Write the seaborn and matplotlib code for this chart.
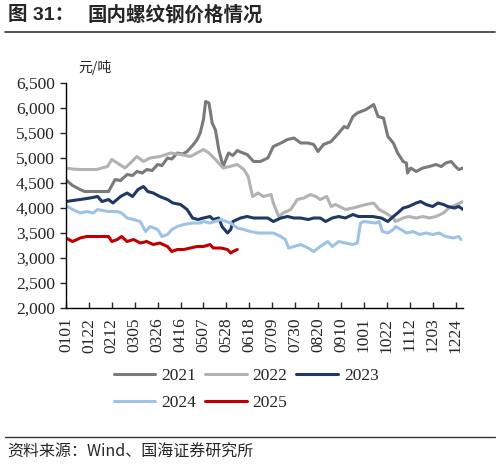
import pandas as pd
import seaborn as sns
import matplotlib.pyplot as plt
from matplotlib.lines import Line2D

# Day-of-year positions (0 = Jan 1) and prices (yuan/ton)
days_2021 = [0, 6, 13, 17, 39, 45, 50, 56, 61, 65, 70, 74, 79, 84, 88, 93, 97, 102, 107, 111,
             116, 120, 123, 126, 128, 131, 134, 137, 140, 144, 149, 153, 157, 160, 166, 172,
             178, 185, 190, 197, 203, 209, 215, 222, 227, 231, 236, 243, 250, 255, 258, 263,
             267, 275, 282, 286, 291, 295, 300, 304, 309, 312, 313, 316, 321, 327, 333, 339,
             344, 348, 353, 357, 360, 364]
price_2021 = [4560, 4450, 4370, 4330, 4330, 4570, 4550, 4670, 4650, 4730, 4700, 4770, 4750, 4870,
              4850, 5000, 4980, 5100, 5080, 5130, 5250, 5360, 5500, 5770, 6130, 6100, 5700, 5560,
              5170, 4830, 5100, 5050, 5150, 5120, 5070, 4930, 4930, 5000, 5230, 5300, 5370, 5400,
              5300, 5300, 5270, 5130, 5270, 5330, 5500, 5630, 5600, 5830, 5900, 5970, 6070, 5830,
              5800, 5430, 5300, 5100, 4930, 4900, 4700, 4800, 4730, 4800, 4830, 4870, 4830, 4900,
              4930, 4830, 4770, 4800]

days_2022 = [0, 6, 13, 28, 38, 42, 47, 54, 59, 65, 71, 77, 86, 96, 105, 114, 120, 126, 131, 137,
             144, 150, 157, 163, 167, 171, 176, 181, 188, 190, 195, 199, 206, 212, 218, 224, 229,
             233, 239, 243, 247, 256, 263, 268, 275, 282, 287, 293, 300, 302, 309, 314, 321, 327,
             333, 339, 346, 351, 358, 364]
price_2022 = [4800, 4780, 4770, 4770, 4830, 4970, 4900, 4800, 4900, 5030, 4930, 5000, 5030, 5100,
              5070, 5030, 5100, 5170, 5100, 4970, 4800, 4830, 4870, 4770, 4630, 4230, 4300, 4230,
              4270, 4100, 3830, 3900, 3970, 4170, 4200, 4270, 4230, 4170, 4230, 4030, 4070, 3970,
              4000, 4030, 4070, 4100, 3970, 3900, 3800, 3730, 3800, 3830, 3800, 3830, 3800, 3830,
              3900, 4000, 4070, 4130]

days_2023 = [0, 13, 22, 29, 33, 39, 43, 50, 56, 61, 66, 71, 75, 80, 86, 93, 98, 105, 111, 116,
             121, 126, 132, 135, 140, 143, 148, 151, 153, 160, 166, 172, 178, 185, 190, 197, 203,
             209, 215, 222, 227, 233, 238, 244, 250, 256, 263, 268, 281, 289, 295, 300, 304, 309,
             314, 321, 325, 330, 336, 341, 346, 350, 356, 360, 364]
price_2023 = [4130, 4170, 4200, 4230, 4130, 4170, 4100, 4230, 4300, 4230, 4370, 4430, 4330, 4300,
              4230, 4170, 4100, 4070, 3970, 3800, 3770, 3800, 3830, 3770, 3800, 3630, 3500, 3570,
              3730, 3800, 3830, 3800, 3800, 3800, 3730, 3800, 3830, 3800, 3800, 3770, 3800, 3800,
              3730, 3800, 3830, 3800, 3870, 3830, 3830, 3800, 3730, 3830, 3900, 4000, 4030, 4100,
              4130, 4070, 4030, 4100, 4070, 4030, 4000, 4030, 3970]

days_2024 = [0, 6, 13, 19, 25, 29, 38, 47, 51, 56, 62, 68, 73, 77, 84, 88, 93, 97, 102, 108, 116,
             123, 126, 132, 142, 151, 157, 163, 169, 176, 190, 197, 201, 204, 209, 215, 222, 227,
             233, 240, 244, 250, 256, 263, 267, 270, 273, 284, 287, 290, 295, 300, 302, 307, 312,
             318, 324, 330, 336, 342, 348, 355, 360, 362]
price_2024 = [4050, 3970, 3900, 3930, 3900, 3970, 3930, 3930, 3900, 3800, 3770, 3730, 3530, 3630,
              3570, 3430, 3470, 3570, 3630, 3670, 3700, 3700, 3730, 3700, 3770, 3700, 3600, 3570,
              3530, 3500, 3500, 3430, 3370, 3200, 3230, 3270, 3200, 3130, 3230, 3330, 3230, 3330,
              3300, 3270, 3300, 3700, 3730, 3700, 3730, 3530, 3500, 3570, 3630, 3570, 3500, 3530,
              3470, 3500, 3470, 3500, 3430, 3400, 3430, 3370]

days_2025 = [0, 6, 13, 19, 39, 42, 47, 51, 56, 62, 68, 74, 80, 86, 93, 97, 102, 108, 114, 120,
             126, 132, 135, 142, 148, 151, 153, 157]
price_2025 = [3400, 3330, 3400, 3430, 3430, 3330, 3370, 3430, 3330, 3370, 3300, 3330, 3270, 3300,
              3230, 3130, 3170, 3170, 3200, 3230, 3230, 3270, 3200, 3200, 3170, 3100, 3130, 3170]

years = ['2021', '2022', '2023', '2024', '2025']
colors = ['#7a7a7a', '#b2b2b2', '#1f3864', '#9dc3e6', '#c00000']

tick_days = list(range(0, 358, 21))
tick_labels = ['0101', '0122', '0212', '0305', '0326', '0416', '0507', '0528', '0618',
               '0709', '0730', '0820', '0910', '1001', '1022', '1112', '1203', '1224']

series = [(days_2021, price_2021), (days_2022, price_2022), (days_2023, price_2023),
          (days_2024, price_2024), (days_2025, price_2025)]
df = pd.concat([pd.DataFrame({'day': d, 'price': p, 'year': y})
                for (d, p), y in zip(series, years)], ignore_index=True)

sns.set_style('white')
plt.rcParams['font.family'] = ['Liberation Serif', 'Noto Sans CJK SC']

fig = plt.figure(figsize=(4.98, 4.65), dpi=100)
ax = fig.add_axes([0.1325, 0.3376, 0.7975, 0.4839])

sns.lineplot(data=df, x='day', y='price', hue='year', palette=dict(zip(years, colors)),
             estimator=None, sort=False, linewidth=2.2, legend=False, ax=ax)

ax.set_xlim(0, 364)
ax.set_ylim(2000, 6500)
ax.set_yticks(range(2000, 6501, 500))
ax.set_yticklabels([f'{v:,}' for v in range(2000, 6501, 500)])
ax.set_xticks(tick_days)
ax.set_xticklabels(tick_labels, rotation=90)
ax.set_xlabel('')
ax.set_ylabel('')
ax.tick_params(axis='y', direction='out', length=4, width=1, labelsize=12.5, pad=4, left=True)
ax.tick_params(axis='x', direction='in', length=4, width=1, labelsize=12.5, pad=7, bottom=True)
for s in ['top', 'right']:
    ax.spines[s].set_visible(False)
for s in ['left', 'bottom']:
    ax.spines[s].set_color('black')
    ax.spines[s].set_linewidth(1)

ax.text(0.03, 1.035, '元/吨', transform=ax.transAxes, fontsize=10,
        family='Noto Sans CJK SC', va='bottom', ha='left')

# legend fills column-wise, so reorder to get 2021 2022 2023 / 2024 2025 by row
order = [0, 3, 1, 4, 2]
handles = [Line2D([], [], color=colors[i], lw=2.2) for i in order]
labels = [years[i] for i in order]
fig.legend(handles, labels, loc='upper left', bbox_to_anchor=(0.228, 1 - 368 / 465),
           bbox_transform=fig.transFigure, ncol=3, frameon=False, fontsize=12.5,
           handlelength=2.4, handletextpad=0.35, columnspacing=0.5, labelspacing=0.6,
           borderaxespad=0, borderpad=0)

fig.text(0.016, 0.967, '图 31：', fontsize=14, fontweight='bold',
         family=['Liberation Sans', 'Noto Sans CJK SC'], va='center', ha='left')
fig.text(0.175, 0.967, '国内螺纹钢价格情况', fontsize=14, fontweight='bold',
         family='Noto Sans CJK SC', va='center', ha='left')
fig.add_artist(Line2D([0.01, 0.994], [1 - 32 / 465, 1 - 32 / 465], color='#333333', lw=1.2,
                      transform=fig.transFigure))
fig.add_artist(Line2D([0.01, 0.994], [1 - 437 / 465, 1 - 437 / 465], color='#333333', lw=1.0,
                      transform=fig.transFigure))
fig.text(0.014, 1 - 452 / 465, '资料来源：Wind、国海证券研究所', fontsize=11.5,
         family=['Noto Sans CJK SC'], va='center', ha='left')

fig.savefig('out.png', dpi=100)
